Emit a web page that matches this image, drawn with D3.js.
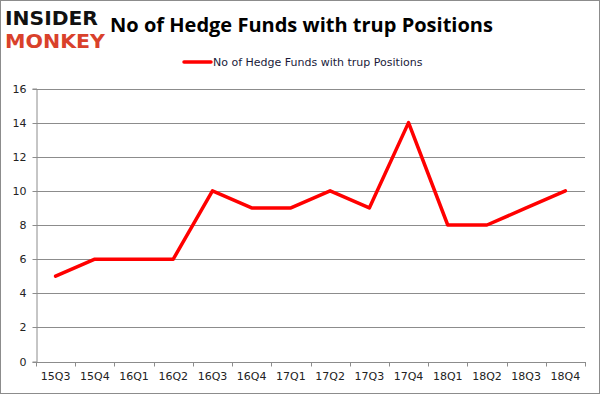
<!DOCTYPE html>
<html>
<head>
<meta charset="utf-8">
<script src="https://cdn.jsdelivr.net/npm/d3@7"></script>
<style>
  body { margin: 0; background: #fff; }
  svg { display: block; font-family: "DejaVu Sans", Verdana, sans-serif; }
</style>
</head>
<body>
<svg id="chart" width="601" height="395"></svg>
<script>
const quarters = ["15Q3", "15Q4", "16Q1", "16Q2", "16Q3", "16Q4", "17Q1", "17Q2", "17Q3", "17Q4", "18Q1", "18Q2", "18Q3", "18Q4"];
const funds = [5, 6, 6, 6, 10, 9, 9, 10, 9, 14, 8, 8, 9, 10];
const yTicks = [0, 2, 4, 6, 8, 10, 12, 14, 16];
const seriesName = "No of Hedge Funds with trup Positions";

const svg = d3.select("#chart");
const width = +svg.attr("width");
const height = +svg.attr("height");

// outer frame
svg.append("rect")
  .attr("x", 0.5).attr("y", 0.5)
  .attr("width", width - 2).attr("height", height - 2)
  .attr("fill", "#fff").attr("stroke", "#8c8c8c");

const plotL = 36, plotR = 585, plotT = 88.5, plotB = 361.5;

const x = d3.scaleBand().domain(quarters).range([plotL, plotR]);
const y = d3.scaleLinear().domain([0, 16]).range([plotB, plotT]);

// gridlines
svg.append("g")
  .selectAll("line")
  .data(yTicks)
  .enter()
  .append("line")
  .attr("x1", plotL).attr("x2", plotR)
  .attr("y1", d => Math.round(y(d)) + 0.5)
  .attr("y2", d => Math.round(y(d)) + 0.5)
  .attr("stroke", "#8c8c8c");

// y axis
const yAxis = svg.append("g")
  .attr("transform", `translate(${plotL + 0.5},0)`)
  .call(d3.axisLeft(y).tickValues(yTicks).tickSize(4).tickPadding(6));
yAxis.select(".domain").attr("stroke", "#8c8c8c");
yAxis.selectAll(".tick line").attr("stroke", "#8c8c8c");
yAxis.selectAll(".tick").attr("transform", d => `translate(0,${Math.round(y(d)) + 0.5})`);
yAxis.selectAll("text").attr("font-size", 11).attr("fill", "#222").attr("font-family", "DejaVu Sans, sans-serif");

// x axis
const xAxis = svg.append("g")
  .attr("transform", `translate(0,${plotB + 0.5})`)
  .call(d3.axisBottom(x).tickSize(0).tickPadding(10));
xAxis.select(".domain").attr("stroke", "#8c8c8c");
xAxis.selectAll("text").attr("font-size", 11).attr("fill", "#222").attr("font-family", "DejaVu Sans, sans-serif");

// x tick marks at band boundaries
svg.append("g")
  .selectAll("line")
  .data(quarters.concat(["end"]))
  .enter()
  .append("line")
  .attr("x1", (d, i) => Math.round(plotL + i * x.step()) + 0.5)
  .attr("x2", (d, i) => Math.round(plotL + i * x.step()) + 0.5)
  .attr("y1", plotB + 0.5).attr("y2", plotB + 5)
  .attr("stroke", "#8c8c8c");

// series line
const line = d3.line()
  .x((d, i) => x(quarters[i]) + x.bandwidth() / 2)
  .y(d => y(d));

svg.append("path")
  .datum(funds)
  .attr("d", line)
  .attr("fill", "none")
  .attr("stroke", "#ff0000")
  .attr("stroke-width", 3.5)
  .attr("stroke-linejoin", "round")
  .attr("stroke-linecap", "round");

// title
svg.append("text")
  .attr("x", 110).attr("y", 32)
  .attr("font-family", "Open Sans, sans-serif")
  .attr("font-size", 20)
  .attr("font-weight", "bold")
  .attr("textLength", 383)
  .attr("lengthAdjust", "spacingAndGlyphs")
  .attr("fill", "#000")
  .text("No of Hedge Funds with trup Positions");

// legend
svg.append("line")
  .attr("x1", 184).attr("x2", 211)
  .attr("y1", 62).attr("y2", 62)
  .attr("stroke", "#ff0000").attr("stroke-width", 3.5)
  .attr("stroke-linecap", "round");
svg.append("text")
  .attr("x", 213).attr("y", 66)
  .attr("font-family", "DejaVu Sans, sans-serif")
  .attr("font-size", 11)
  .attr("fill", "#1a1a3a")
  .text(seriesName);

// logo
svg.append("text")
  .attr("x", 5).attr("y", 25)
  .attr("font-family", "DejaVu Sans, sans-serif")
  .attr("font-size", 20)
  .attr("font-weight", "bold")
  .attr("textLength", 93)
  .attr("lengthAdjust", "spacingAndGlyphs")
  .attr("fill", "#111")
  .text("INSIDER");
svg.append("text")
  .attr("x", 5).attr("y", 48)
  .attr("font-family", "DejaVu Sans, sans-serif")
  .attr("font-size", 20)
  .attr("font-weight", "bold")
  .attr("textLength", 100)
  .attr("lengthAdjust", "spacingAndGlyphs")
  .attr("fill", "#d9412b")
  .text("MONKEY");
</script>
</body>
</html>
